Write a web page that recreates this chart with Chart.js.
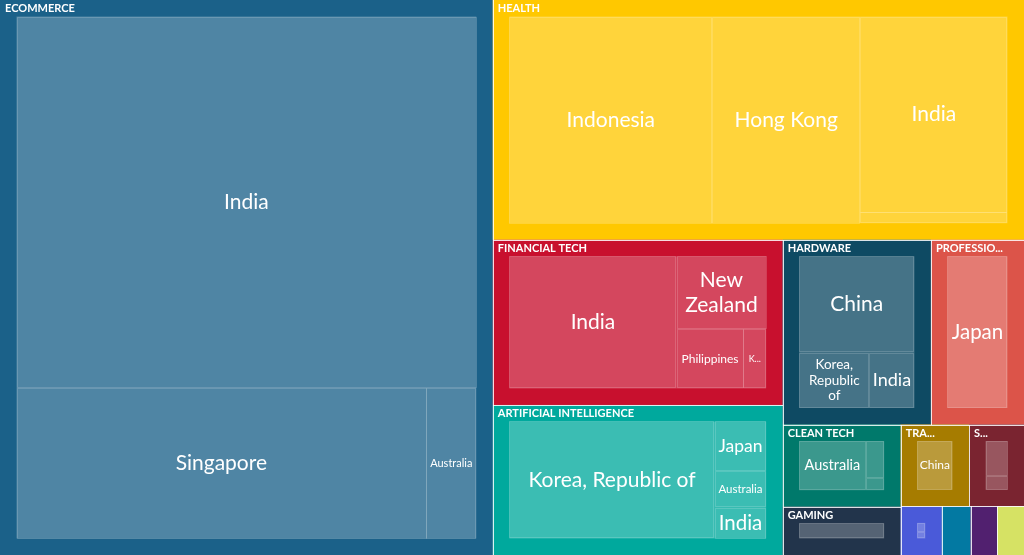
<!DOCTYPE html>
<html>
<head>
<meta charset="utf-8">
<title>Treemap</title>
<script src="https://cdn.jsdelivr.net/npm/chart.js@4.4.1/dist/chart.umd.min.js"></script>
<style>
	html, body { margin: 0; padding: 0; background: #fff; }
	#wrap { width: 1024px; height: 555px; }
</style>
</head>
<body>
<div id="wrap"><canvas id="treemapChart"></canvas></div>
<script>
// sectors (top level) and their countries (leaves)
const sectors = ['ECOMMERCE', 'HEALTH', 'FINANCIAL TECH', 'ARTIFICIAL INTELLIGENCE', 'HARDWARE',
	'PROFESSIONAL SERVICES', 'CLEAN TECH', 'GAMING', 'TRANSPORTATION', 'SOFTWARE',
	'EDUCATION', 'MEDIA', 'REAL ESTATE', 'ENERGY'];
const sectorColors = ['#1b6189', '#ffc800', '#c8102e', '#00a99d', '#0e4a63',
	'#dc5449', '#00796b', '#22344b', '#a67c00', '#7a2430',
	'#4a5ad9', '#0379a2', '#51206f', '#d6e264'];
const countries = [
	['India', 'Singapore', 'Australia'],
	['Indonesia', 'Hong Kong', 'India', 'Singapore'],
	['India', 'New Zealand', 'Philippines', 'Korea, Republic of'],
	['Korea, Republic of', 'Japan', 'Australia', 'India'],
	['China', 'Korea, Republic of', 'India'],
	['Japan'],
	['Australia', 'Singapore', 'India'],
	['Korea, Republic of'],
	['China'],
	['India', 'Singapore'],
	['India', 'Singapore'],
	['Singapore'],
	['Australia'],
	['India']
];
const values = [
	[1946, 704, 86],
	[519, 378, 357, 20],
	[312, 92, 56, 19],
	[348, 37, 27, 23],
	[174, 61, 39],
	[172],
	[76, 16, 5],
	[57],
	[56],
	[32, 13],
	[12, 8],
	[14],
	[13],
	[13]
];

// layout domain (data units of the x / y scales)
const W = 1024, H = 555;
const PAD = 16.5;

// binary tiling (same idea as d3.treemapBinary)
function binaryTile(vals, x0, y0, x1, y1) {
	const n = vals.length, sums = [0];
	vals.forEach((v, i) => sums.push(sums[i] + v));
	const rects = new Array(n);
	function part(i, j, value, x0, y0, x1, y1) {
		if (i >= j - 1) { rects[i] = { x0, y0, x1, y1 }; return; }
		const off = sums[i], target = value / 2 + off;
		let k = i + 1, hi = j - 1;
		while (k < hi) {
			const mid = (k + hi) >>> 1;
			if (sums[mid] < target) k = mid + 1; else hi = mid;
		}
		if ((target - sums[k - 1]) < (sums[k] - target) && i + 1 < k) --k;
		const vl = sums[k] - off, vr = value - vl;
		if ((x1 - x0) > (y1 - y0)) {
			const xk = value ? (x0 * vr + x1 * vl) / value : x1;
			part(i, k, vl, x0, y0, xk, y1);
			part(k, j, vr, xk, y0, x1, y1);
		} else {
			const yk = value ? (y0 * vr + y1 * vl) / value : y1;
			part(i, k, vl, x0, y0, x1, yk);
			part(k, j, vr, x0, yk, x1, y1);
		}
	}
	part(0, n, sums[n], x0, y0, x1, y1);
	return rects;
}

function buildLayout() {
	const groups = sectors.map((name, i) => {
		const leaves = countries[i].map((c, j) => ({ name: c, value: values[i][j] }))
			.sort((a, b) => b.value - a.value);
		return { name, color: sectorColors[i], leaves, value: leaves.reduce((s, l) => s + l.value, 0) };
	}).sort((a, b) => b.value - a.value);

	const gRects = binaryTile(groups.map(g => g.value), 0, 0, W, H);
	groups.forEach((g, i) => {
		g.rect = gRects[i];
		const r = g.rect;
		const ix0 = r.x0 + PAD, ix1 = r.x1 - PAD, iy0 = r.y0 + PAD, iy1 = r.y1 - PAD;
		if (ix1 - ix0 <= 0 || iy1 - iy0 <= 0) { g.leaves.forEach(l => l.rect = null); return; }
		const lRects = binaryTile(g.leaves.map(l => l.value), ix0, iy0, ix1, iy1);
		g.leaves.forEach((l, j) => l.rect = lRects[j]);
	});
	return groups;
}

function wrapWords(ctx, text, maxW) {
	const words = text.split(' ');
	const lines = [];
	let cur = '';
	for (const w of words) {
		if (ctx.measureText(w).width > maxW) return null;
		const test = cur ? cur + ' ' + w : w;
		if (ctx.measureText(test).width <= maxW) cur = test;
		else { lines.push(cur); cur = w; }
	}
	if (cur) lines.push(cur);
	return lines;
}

function fitLabel(ctx, text, w, h) {
	const maxW = w * 0.86, maxH = h * 0.85;
	for (let size = 21; size >= 8; size -= 0.5) {
		ctx.font = size + 'px Lato';
		const lines = wrapWords(ctx, text, maxW);
		if (lines && lines.length * size * 1.15 <= maxH) return { size, lines };
	}
	const size = 9;
	ctx.font = size + 'px Lato';
	let cut = text.length;
	while (cut > 1 && ctx.measureText(text.slice(0, cut) + '...').width > w * 0.65) cut--;
	return { size, lines: [text.slice(0, cut) + '...'] };
}

function headerText(ctx, text, w) {
	ctx.font = 'bold 11px Lato';
	if (ctx.measureText(text).width <= w - 12) return text;
	const keep = Math.max(1, Math.floor((w - 55) / 4.1));
	return text.slice(0, keep) + '...';
}

const treemapPlugin = {
	id: 'treemapCells',
	beforeDatasetsDraw(chart) {
		const ctx = chart.ctx;
		const xs = chart.scales.x, ys = chart.scales.y;
		const box = r => {
			const a = xs.getPixelForValue(r.x0), b = xs.getPixelForValue(r.x1);
			const c = ys.getPixelForValue(r.y0), d = ys.getPixelForValue(r.y1);
			return { x: Math.min(a, b), y: Math.min(c, d), w: Math.abs(b - a), h: Math.abs(d - c) };
		};
		const groups = buildLayout();
		ctx.save();

		groups.forEach(g => {
			const gb = box(g.rect);
			ctx.fillStyle = g.color;
			ctx.fillRect(gb.x, gb.y, gb.w, gb.h);

			g.leaves.forEach(l => {
				if (!l.rect) return;
				const lb = box(l.rect);
				if (lb.w < 1 || lb.h < 1) return;
				ctx.fillStyle = 'rgba(255,255,255,0.23)';
				ctx.fillRect(lb.x, lb.y, lb.w, lb.h);
				ctx.strokeStyle = 'rgba(255,255,255,0.16)';
				ctx.lineWidth = 1;
				ctx.strokeRect(Math.round(lb.x) + 0.5, Math.round(lb.y) + 0.5, Math.round(lb.w) - 1, Math.round(lb.h) - 1);

				// leaf label
				if (lb.w * lb.h < 1000 || lb.h < 20 || lb.w < 15) return;
				const fit = fitLabel(ctx, l.name, lb.w, lb.h);
				ctx.font = fit.size + 'px Lato';
				ctx.fillStyle = '#ffffff';
				ctx.textAlign = 'center';
				ctx.textBaseline = 'middle';
				const lh = fit.size * 1.15;
				const cx = lb.x + lb.w / 2, cy = lb.y + lb.h / 2;
				fit.lines.forEach((line, k) => {
					ctx.fillText(line, cx, cy + (k - (fit.lines.length - 1) / 2) * lh);
				});
			});

			// sector header
			if (gb.w >= 45) {
				ctx.save();
				ctx.beginPath();
				ctx.rect(gb.x, gb.y, gb.w, gb.h);
				ctx.clip();
				ctx.font = 'bold 11px Lato';
				ctx.fillStyle = '#ffffff';
				ctx.textAlign = 'left';
				ctx.textBaseline = 'middle';
				ctx.fillText(headerText(ctx, g.name, gb.w), gb.x + 5, gb.y + 8.5);
				ctx.restore();
			}
		});

		// borders between sectors
		ctx.strokeStyle = 'rgba(255,255,255,0.85)';
		ctx.lineWidth = 1;
		const area = chart.chartArea;
		groups.forEach(g => {
			const gb = box(g.rect);
			const x0 = Math.round(gb.x) + 0.5, x1 = Math.round(gb.x + gb.w) - 0.5;
			const y0 = Math.round(gb.y) + 0.5, y1 = Math.round(gb.y + gb.h) - 0.5;
			ctx.beginPath();
			if (gb.x > area.left + 1) { ctx.moveTo(x0, y0 - 0.5); ctx.lineTo(x0, y1 + 0.5); }
			if (gb.y > area.top + 1) { ctx.moveTo(x0 - 0.5, y0); ctx.lineTo(x1 + 0.5, y0); }
			ctx.stroke();
		});
		ctx.restore();
	}
};

document.addEventListener('DOMContentLoaded', function() {
	const ctx = document.getElementById('treemapChart').getContext('2d');
	new Chart(ctx, {
		type: 'scatter',
		data: { datasets: [{ label: 'sectors', data: [] }] },
		options: {
			responsive: true,
			maintainAspectRatio: false,
			animation: false,
			layout: { padding: 0 },
			plugins: {
				legend: { display: false },
				tooltip: { enabled: false }
			},
			scales: {
				x: { type: 'linear', min: 0, max: W, display: false },
				y: { type: 'linear', min: 0, max: H, reverse: true, display: false }
			}
		},
		plugins: [treemapPlugin]
	});
});
</script>
</body>
</html>
